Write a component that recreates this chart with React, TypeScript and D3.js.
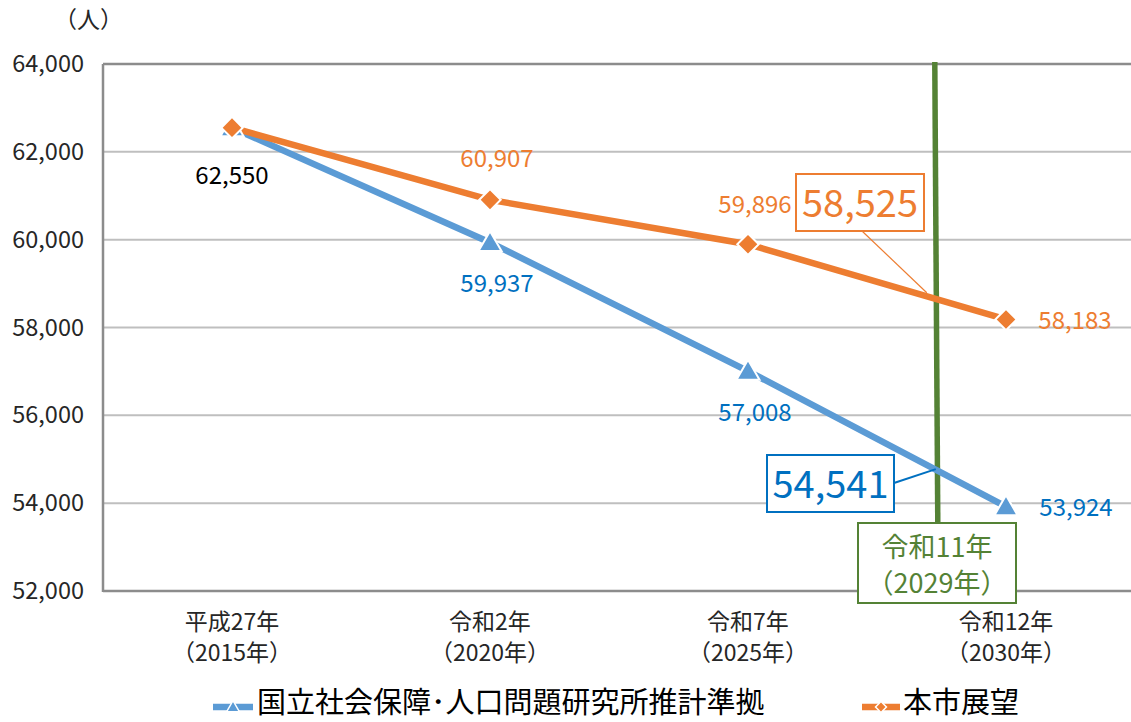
import React from "react";
import * as d3 from "d3";

const categories = ["平成27年|（2015年）", "令和2年|（2020年）", "令和7年|（2025年）", "令和12年|（2030年）"];
const years = [2015, 2020, 2025, 2030];
const ipssValues = [62550, 59937, 57008, 53924];
const cityValues = [62550, 60907, 59896, 58183];
const yTicks = [52000, 54000, 56000, 58000, 60000, 62000, 64000];
const seriesNames = ["国立社会保障･人口問題研究所推計準拠", "本市展望"];
const markerYear = 2028.62;
const markerLabel = ["令和11年", "（2029年）"];
const calloutIpss = 54541;
const calloutCity = 58525;

const W = 1131;
const H = 722;
const FONT = "'Noto Sans CJK JP', 'Noto Sans', sans-serif";
const BLUE = "#5B9BD5";
const BLUE_T = "#0070C0";
const ORANGE = "#ED7D31";
const GREEN = "#548235";

const fmt = d3.format(",");

export default function App() {
  const left = 103, right = 1135, top = 64, bottom = 591;
  const x = d3.scalePoint<string>().domain(categories).range([left, right]).padding(0.5);
  const xYear = d3.scaleLinear().domain([years[0], years[years.length - 1]])
    .range([x(categories[0])!, x(categories[categories.length - 1])!]);
  const y = d3.scaleLinear().domain([52000, 64000]).range([bottom, top]);

  const line = d3.line<number>().x((_, i) => x(categories[i])!).y((d) => y(d));

  const tri = d3.symbol().type(d3.symbolTriangle).size(230)();
  const dia = d3.symbol().type(d3.symbolSquare).size(230)();
  const triS = d3.symbol().type(d3.symbolTriangle).size(70)();
  const diaS = d3.symbol().type(d3.symbolSquare).size(60)();

  const gx = xYear(markerYear);
  const interp = (vals: number[]) => {
    const t = (markerYear - 2025) / 5;
    return vals[2] + (vals[3] - vals[2]) * t;
  };
  const ipssAtMarker = y(interp(ipssValues));
  const cityAtMarker = y(interp(cityValues));

  const ipssLabelOff = [56, 50, 50, 9];
  const ipssLabelDx = [0, 7, 7, 70];
  const cityLabelOff = [0, -33, -31, 10];
  const cityLabelDx = [0, 7, 7, 69];

  return (
    <svg width={W} height={H} style={{ position: "absolute", left: 0, top: 0, background: "#fff" }} fontFamily={FONT}>
      {yTicks.map((t) => (
        <line key={t} x1={left} x2={W} y1={y(t)} y2={y(t)}
          stroke={t === 64000 || t === 52000 ? "#8C8C8C" : "#BFBFBF"} strokeWidth={t === 52000 || t === 64000 ? 2.5 : 2} />
      ))}
      <line x1={left} x2={left} y1={top} y2={bottom + 1} stroke="#8C8C8C" strokeWidth={2.5} />
      {yTicks.map((t) => (
        <text key={t} x={84} y={y(t) + 8} textAnchor="end" fontSize={23.5} fill="#262626">{fmt(t)}</text>
      ))}
      <text x={54} y={28} fontSize={23} fill="#262626">（人）</text>
      {categories.map((c) => {
        const [a, b] = c.split("|");
        return (
          <g key={c}>
            <text x={x(c)!} y={630} textAnchor="middle" fontSize={23} fill="#262626">{a}</text>
            <text x={x(c)!} y={661} textAnchor="middle" fontSize={23} fill="#262626">{b}</text>
          </g>
        );
      })}
      <line x1={gx} x2={gx + 3} y1={top - 2} y2={523} stroke={GREEN} strokeWidth={5.5} />
      <path d={line(ipssValues)!} fill="none" stroke={BLUE} strokeWidth={6.5} />
      <path d={line(cityValues)!} fill="none" stroke={ORANGE} strokeWidth={6.5} />
      {ipssValues.map((v, i) => (
        <path key={i} d={tri!} transform={`translate(${x(categories[i])},${y(v) + 2})`} fill={BLUE} stroke="#fff" strokeWidth={2} />
      ))}
      {cityValues.map((v, i) => (
        <path key={i} d={dia!} transform={`translate(${x(categories[i])},${y(v)}) rotate(45)`} fill={ORANGE} stroke="#fff" strokeWidth={2} />
      ))}
      {ipssValues.map((v, i) => (
        <text key={i} x={x(categories[i])! + ipssLabelDx[i]} y={y(v) + ipssLabelOff[i]} textAnchor="middle" fontSize={24}
          fill={i === 0 ? "#000" : BLUE_T}>{fmt(v)}</text>
      ))}
      {cityValues.map((v, i) => i === 0 ? null : (
        <text key={i} x={x(categories[i])! + cityLabelDx[i]} y={y(v) + cityLabelOff[i]} textAnchor="middle" fontSize={24}
          fill={ORANGE}>{fmt(v)}</text>
      ))}
      <line x1={894} y1={483} x2={gx + 1} y2={ipssAtMarker} stroke={BLUE_T} strokeWidth={2} />
      <rect x={767} y={455} width={127} height={57} fill="#fff" stroke={BLUE_T} strokeWidth={2} />
      <text x={830.5} y={498} textAnchor="middle" fontSize={38} fill={BLUE_T}>{fmt(calloutIpss)}</text>

      <line x1={862} y1={231} x2={gx - 8} y2={cityAtMarker - 6} stroke={ORANGE} strokeWidth={1.2} />
      <rect x={796} y={174} width={128} height={57} fill="#fff" stroke={ORANGE} strokeWidth={2} />
      <text x={860} y={217} textAnchor="middle" fontSize={38} fill={ORANGE}>{fmt(calloutCity)}</text>

      <rect x={858} y={523} width={158} height={80} fill="#fff" stroke={GREEN} strokeWidth={2} />
      <text x={937} y={557} textAnchor="middle" fontSize={27} fill={GREEN}>{markerLabel[0]}</text>
      <text x={937} y={593} textAnchor="middle" fontSize={27} fill={GREEN}>{markerLabel[1]}</text>

      <line x1={213} x2={253} y1={707} y2={707} stroke={BLUE} strokeWidth={6.5} />
      <path d={triS!} transform="translate(233,708)" fill={BLUE} stroke="#fff" strokeWidth={1.5} />
      <text x={257} y={713} fontSize={29} fill="#000">{seriesNames[0]}</text>
      <line x1={862} x2={900} y1={707} y2={707} stroke={ORANGE} strokeWidth={6.5} />
      <path d={diaS!} transform="translate(881,707) rotate(45)" fill={ORANGE} stroke="#fff" strokeWidth={1.5} />
      <text x={903} y={713} fontSize={29} fill="#000">{seriesNames[1]}</text>
    </svg>
  );
}
